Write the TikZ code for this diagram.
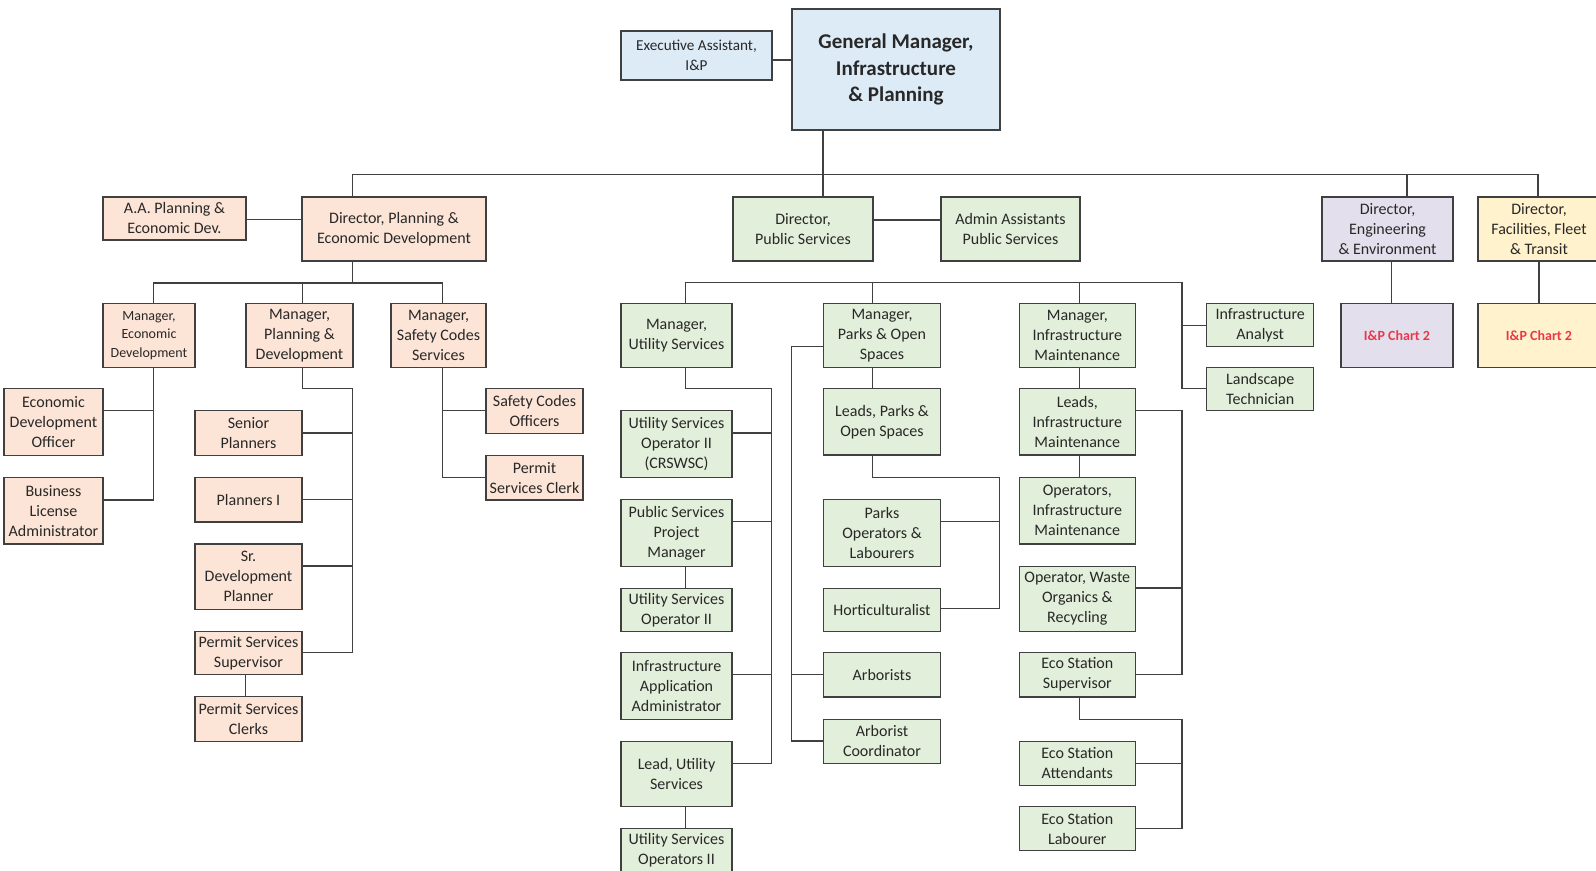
\documentclass[tikz,border=0pt]{standalone}
\usepackage{fontspec}
\setmainfont{Carlito}
\usepackage{tikz}
\usetikzlibrary{positioning}
\definecolor{linegray}{RGB}{64,64,64}
\definecolor{txtgray}{RGB}{40,40,40}
\definecolor{peachfill}{RGB}{252,228,214}
\definecolor{greenfill}{RGB}{226,239,218}
\definecolor{bluefill}{RGB}{221,235,247}
\definecolor{purplefill}{RGB}{228,223,236}
\definecolor{yellowfill}{RGB}{255,242,204}
\definecolor{chartred}{RGB}{232,56,78}

\begin{document}
\begin{tikzpicture}
				[x=0.5pt, y=-0.5pt, line width=0.65pt, draw=linegray,
				every node/.style={draw=linegray, line width=0.65pt, align=center, inner sep=1pt, text=txtgray, font=\fontsize{8}{10}\selectfont},
				peach/.style={fill=peachfill}, green/.style={fill=greenfill}, blue/.style={fill=bluefill},
				small/.style={font=\fontsize{7}{9.2}\selectfont},
				chart/.style={font=\fontsize{7}{9}\selectfont\bfseries, text=chartred}]
				\path[use as bounding box, fill=white] (0,0) rectangle (1596,871);
				\node (gm) [blue, minimum width=104pt, minimum height=60.5pt, font=\fontsize{10.5}{13.25}\selectfont\bfseries] at (896,69.5) {General Manager,\\Infrastructure\\\& Planning};\node (exec) [blue, minimum width=75.5pt, minimum height=24.5pt, font=\fontsize{7.6}{9.7}\selectfont] at (696.5,55.5) {Executive Assistant,\\I\&P};
				\node (aaplan) [peach, minimum width=71.5pt, minimum height=21.5pt] at (174.5,218.5) {A.A. Planning \&\\Economic Dev.};\node (dirplan) [peach, minimum width=92pt, minimum height=32pt] at (394,229) {Director, Planning \&\\Economic Development};\node (dirps) [green, minimum width=70pt, minimum height=32pt] at (803,229) {Director,\\Public Services};\node (admin) [green, minimum width=69.5pt, minimum height=32pt] at (1010.5,229) {Admin Assistants\\Public Services};\node (direng) [fill=purplefill, minimum width=65.5pt, minimum height=32pt] at (1387.5,229) {Director,\\Engineering\\\& Environment};\node (dirfac) [fill=yellowfill, minimum width=61pt, minimum height=32pt] at (1539,229) {Director,\\Facilities, Fleet\\\& Transit};
				\node (chartA) [chart, fill=purplefill, minimum width=56pt, minimum height=32pt] at (1397,335.5) {I\&P Chart 2};\node (chartB) [chart, fill=yellowfill, minimum width=61pt, minimum height=32pt] at (1539,335.5) {I\&P Chart 2};
				\node (mgrecon) [peach, small, minimum width=46pt, minimum height=32pt] at (149,335.6) {Manager,\\Economic\\Development};\node (mgrplan) [peach, minimum width=53.5pt, minimum height=32pt] at (299.5,335.6) {Manager,\\Planning \&\\Development};\node (mgrsafe) [peach, minimum width=47.5pt, minimum height=32pt] at (438.5,335.6) {Manager,\\Safety Codes\\Services};
				\node (ecoff) [peach, minimum width=49.5pt, minimum height=33.25pt] at (53.5,422) {Economic\\Development\\Officer};\node (buslic) [peach, minimum width=49.5pt, minimum height=33.25pt] at (53.5,510.6) {Business\\License\\Administrator};
				\node (srplan) [peach, minimum width=53.5pt, minimum height=22.35pt] at (248.5,432.9) {Senior\\Planners};\node (plan1) [peach, minimum width=53.5pt, minimum height=22.35pt] at (248.5,499.7) {Planners I};\node (srdev) [peach, minimum width=53.5pt, minimum height=32.7pt] at (248.5,576.6) {Sr.\\Development\\Planner};\node (permsup) [peach, minimum width=53.5pt, minimum height=21.6pt] at (248.5,653.1) {Permit Services\\Supervisor};\node (permclk) [peach, minimum width=53.5pt, minimum height=22.5pt] at (248.5,719) {Permit Services\\Clerks};
				\node (safeoff) [peach, minimum width=48.5pt, minimum height=22.25pt] at (534.5,411) {Safety Codes\\Officers};\node (permclk2) [peach, minimum width=48.5pt, minimum height=22.25pt] at (534.5,477.7) {Permit\\Services Clerk};
				\node (mgrutil) [green, minimum width=55.5pt, minimum height=31.85pt] at (676.5,335.5) {Manager,\\Utility Services};\node (usop2c) [green, minimum width=55.5pt, minimum height=33.35pt] at (676.5,444) {Utility Services\\Operator II\\(CRSWSC)};\node (psprj) [green, minimum width=55.5pt, minimum height=33.35pt] at (676.5,533) {Public Services\\Project\\Manager};\node (usop2) [green, minimum width=55.5pt, minimum height=21.45pt] at (676.5,610) {Utility Services\\Operator II};\node (infapp) [green, minimum width=55.5pt, minimum height=33.35pt] at (676.5,685.9) {Infrastructure\\Application\\Administrator};\node (leadutil) [green, minimum width=55.5pt, minimum height=32.6pt] at (676.5,774) {Lead, Utility\\Services};\node (usops2) [green, minimum width=55.5pt, minimum height=21.6pt] at (676.5,850.4) {Utility Services\\Operators II};
				\node (mgrparks) [green, minimum width=58.7pt, minimum height=31.85pt] at (882,335.5) {Manager,\\Parks \& Open\\Spaces};\node (leadparks) [green, minimum width=58.7pt, minimum height=33.15pt] at (882,422) {Leads, Parks \&\\Open Spaces};\node (parksops) [green, minimum width=58.7pt, minimum height=33.35pt] at (882,533) {Parks\\Operators \&\\Labourers};\node (hort) [green, minimum width=58.7pt, minimum height=21.45pt] at (882,610) {Horticulturalist};\node (arbs) [green, minimum width=58.7pt, minimum height=22.25pt] at (882,674.75) {Arborists};\node (arbco) [green, minimum width=58.7pt, minimum height=22.05pt] at (882,741.25) {Arborist\\Coordinator};
				\node (mgrinfra) [green, minimum width=58pt, minimum height=31.85pt] at (1077.3,335.5) {Manager,\\Infrastructure\\Maintenance};\node (leadinfra) [green, minimum width=58pt, minimum height=33.15pt] at (1077.3,422) {Leads,\\Infrastructure\\Maintenance};\node (opsinfra) [green, minimum width=58pt, minimum height=33.3pt] at (1077.3,510.7) {Operators,\\Infrastructure\\Maintenance};\node (opwaste) [green, minimum width=58pt, minimum height=32.55pt] at (1077.3,598.85) {Operator, Waste\\Organics \&\\Recycling};\node (ecosup) [green, minimum width=58pt, minimum height=22.25pt] at (1077.3,674.75) {Eco Station\\Supervisor};\node (ecoatt) [green, minimum width=58pt, minimum height=22.05pt] at (1077.3,763.45) {Eco Station\\Attendants};\node (ecolab) [green, minimum width=58pt, minimum height=22.05pt] at (1077.3,828.65) {Eco Station\\Labourer};
				\node (infana) [green, minimum width=53.5pt, minimum height=21.5pt] at (1260.2,325.2) {Infrastructure\\Analyst};\node (landtech) [green, minimum width=53.5pt, minimum height=21.65pt] at (1260.2,389) {Landscape\\Technician};
				
				\draw (exec.east |- 0,60) -- (gm.west |- 0,60);
				\draw (gm.south -| 823,0) -- (dirps.north -| 823,0);
				\draw (dirplan.north -| 352.7,0) |- (1538,174.3) -- (dirfac.north -| 1538,0);
				\draw (1407,174.3) -- (direng.north -| 1407,0);
				\draw (direng.south -| 1391.3,0) -- (chartA.north -| 1391.3,0);
				\draw (dirfac) -- (chartB);
				
				\draw (aaplan.east |- 0,219.3) -- (dirplan.west |- 0,219.3);
				\draw (dirplan.south -| 352.7,0) -- (352.7,283);
				\draw (mgrecon.north -| 153.3,0) |- (352.7,283) -| (mgrsafe.north -| 442.7,0);
				\draw (mgrplan.north -| 302.3,0) -- (302.3,283);
				\draw (mgrecon.south -| 153.3,0) |- (buslic.east |- 0,500);
				\draw (ecoff.east |- 0,410.5) -- (153.3,410.5);
				\draw (mgrplan.south -| 302.3,0) |- (352.7,388.7) |- (permsup.east |- 0,652.6);
				\draw (srplan.east) -- (srplan.east -| 352.7,0);
				\draw (plan1.east) -- (plan1.east -| 352.7,0);
				\draw (srdev.east |- 0,566) -- (352.7,566);
				\draw (permsup.south -| 245.7,0) -- (permclk.north -| 245.7,0);
				\draw (mgrsafe.south -| 442.7,0) |- (permclk2.west |- 0,477.3);
				\draw (safeoff.west |- 0,410.5) -- (442.7,410.5);
				
				\draw (dirps.east |- 0,220) -- (admin.west |- 0,220);
				\draw (mgrutil.north -| 685.7,0) |- (1182,282.6) |- (landtech.west |- 0,388.8);
				\draw (872.7,282.6) -- (mgrparks.north -| 872.7,0);
				\draw (mgrinfra.north -| 1079.7,0) -- (1079.7,282.6);
				\draw (infana.west |- 0,325.6) -- (1182,325.6);
				\draw (mgrutil.south -| 685.7,0) |- (771.7,388.8) |- (leadutil.east |- 0,763.3);
				\draw (usop2c.east |- 0,432.9) -- (771.7,432.9);
				\draw (psprj.east |- 0,521.8) -- (771.7,521.8);
				\draw (infapp.east |- 0,674.4) -- (771.7,674.4);
				\draw (psprj.south -| 685.7,0) -- (usop2.north -| 685.7,0);
				\draw (leadutil.south -| 685.7,0) -- (usops2.north -| 685.7,0);
				\draw (mgrparks.west |- 0,346.7) -| (791.7,741) -- (arbco.west |- 0,741);
				\draw (arbs.west) -- (arbs.west -| 791.7,0);
				\draw (mgrparks.south -| 872.7,0) -- (leadparks.north -| 872.7,0);
				\draw (leadparks.south -| 872.7,0) |- (999.7,477.4) |- (hort.east |- 0,608.8);
				\draw (parksops.east |- 0,521.8) -- (999.7,521.8);
				\draw (mgrinfra.south -| 1079.7,0) -- (leadinfra.north -| 1079.7,0);
				\draw (leadinfra.south -| 1079.7,0) -- (opsinfra.north -| 1079.7,0);
				\draw (leadinfra.east |- 0,410.7) -| (1182,674.4) -- (ecosup.east |- 0,674.4);
				\draw (opwaste.east |- 0,588) -- (1182,588);
				\draw (ecosup.south -| 1079.7,0) |- (1182,719.2) |- (ecolab.east |- 0,828.8);
				\draw (ecoatt.east) -- (ecoatt.east -| 1182,0);
			\end{tikzpicture}
\end{document}
